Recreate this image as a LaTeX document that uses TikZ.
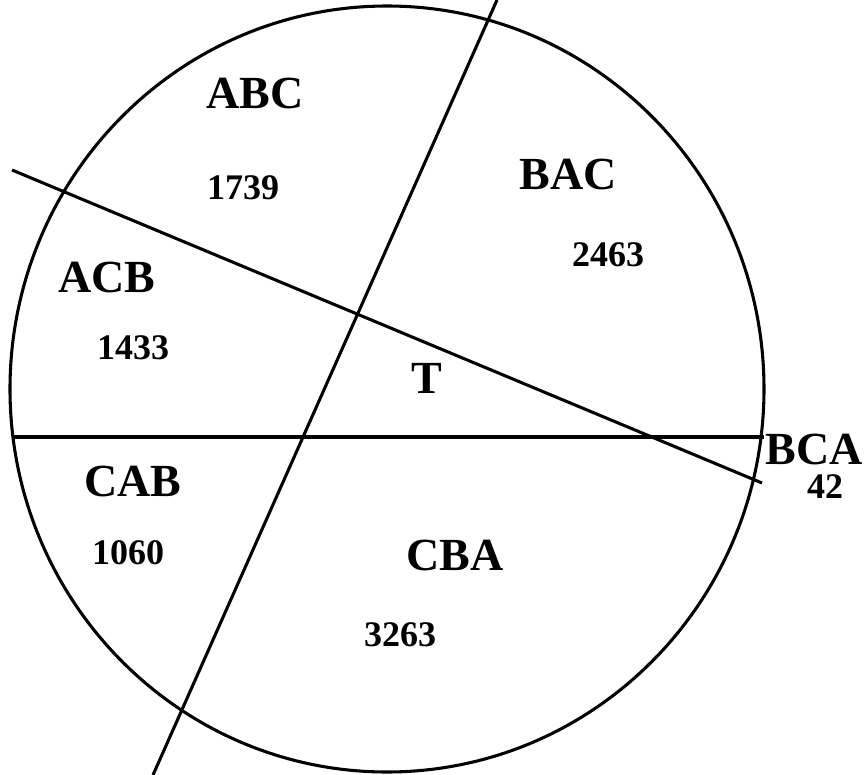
\documentclass[tikz,border=0pt]{standalone}
\usepackage{fontspec}
\setmainfont{Liberation Serif}
\usepackage{tikz}

\begin{document}
\begin{tikzpicture}[x=0.75pt, y=-0.75pt, line width=2.3pt,
    perm/.style={font=\fontsize{34.5pt}{36pt}\selectfont\bfseries, inner sep=0pt},
    tally/.style={font=\fontsize{27pt}{28pt}\selectfont\bfseries, inner sep=0pt}]
  \useasboundingbox (0,0) rectangle (865,775);
  \draw (387,389) ellipse [x radius=282.75pt, y radius=287.25pt];
  \coordinate (v1) at (497,0);   \coordinate (v2) at (153,775);
  \coordinate (s1) at (12,170);  \coordinate (s2) at (762,483);
  \coordinate (h1) at (14,437);  \coordinate (h2) at (764,437);
  \draw (v1) -- (v2);
  \draw (s1) -- (s2);
  \draw (h1) -- (h2);
  \node[perm] (abc) at (255,93) {ABC};
  \node[tally] (nabc) at (243,188) {1739};
  \node[perm] (bac) at (568,174) {BAC};
  \node[tally] (nbac) at (608,255) {2463};
  \node[perm] (acb) at (107,277) {ACB};
  \node[tally] (nacb) at (133,348) {1433};
  \node[perm] (t) at (427,378) {T};
  \node[perm] (cab) at (133,481) {CAB};
  \node[tally] (ncab) at (128,553) {1060};
  \node[perm] (cba) at (455,555) {CBA};
  \node[tally] (ncba) at (400,635) {3263};
  \node[perm] (bca) at (814,449) {BCA};
  \node[tally] (nbca) at (825,487) {42};
\end{tikzpicture}
\end{document}
